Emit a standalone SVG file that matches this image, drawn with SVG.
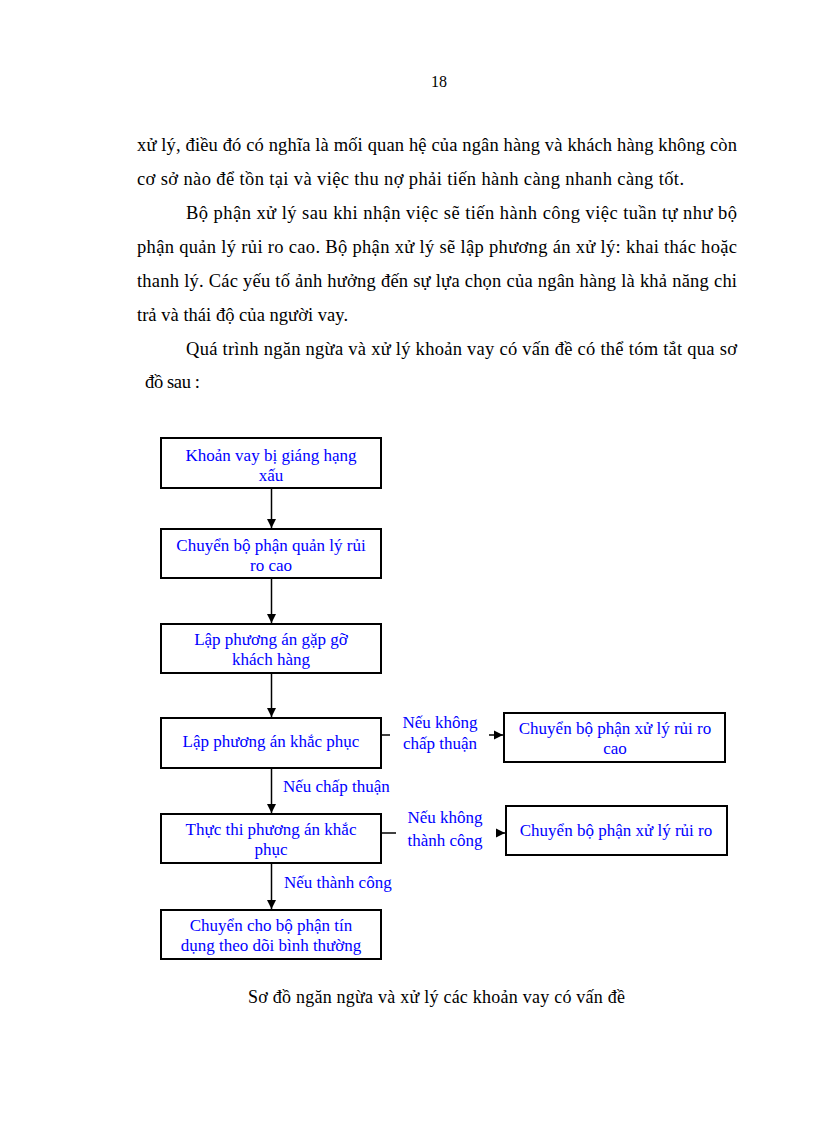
<svg xmlns="http://www.w3.org/2000/svg" width="816" height="1123" viewBox="0 0 816 1123">
<style>
text{font-family:"Liberation Serif","Times New Roman",serif}
.body{font-size:18.5px;fill:#000}
.pg{font-size:16px;fill:#000}
.cap{font-size:18px;fill:#000}
.nt{font-size:17px;fill:#0000ff;text-anchor:middle}
.lb{font-size:17px;fill:#0000ff}
.box{fill:#fff;stroke:#000;stroke-width:2}
.ln{stroke:#000;stroke-width:1.5;fill:none}
</style>
<defs>
<marker id="ah" markerWidth="10" markerHeight="10" refX="9" refY="5" orient="auto" markerUnits="userSpaceOnUse">
<path d="M0,0.5 L9,5 L0,9.5 Z" fill="#000"/>
</marker>
</defs>
<rect width="816" height="1123" fill="#fff"/>

<g id="page-text">
<text class="pg" x="439" y="87" text-anchor="middle">18</text>
<text class="body" x="137" y="151" textLength="600" lengthAdjust="spacing">xử lý, điều đó có nghĩa là mối quan hệ của ngân hàng và khách hàng không còn</text>
<text class="body" x="137" y="185" textLength="547" lengthAdjust="spacing">cơ sở nào để tồn tại và việc thu nợ phải tiến hành càng nhanh càng tốt.</text>
<text class="body" x="186" y="219" textLength="551" lengthAdjust="spacing">Bộ phận xử lý sau khi nhận việc sẽ tiến hành công việc tuần tự như bộ</text>
<text class="body" x="137" y="253" textLength="600" lengthAdjust="spacing">phận quản lý rủi ro cao. Bộ phận xử lý sẽ lập phương án xử lý: khai thác hoặc</text>
<text class="body" x="137" y="287" textLength="600" lengthAdjust="spacing">thanh lý. Các yếu tố ảnh hưởng đến sự lựa chọn của ngân hàng là khả năng chi</text>
<text class="body" x="137" y="321" textLength="211" lengthAdjust="spacing">trả và thái độ của người vay.</text>
<text class="body" x="186" y="355" textLength="551" lengthAdjust="spacing">Quá trình ngăn ngừa và xử lý khoản vay có vấn đề có thể tóm tắt qua sơ</text>
<text class="body" x="145" y="388" textLength="55" lengthAdjust="spacing">đồ sau :</text>
</g>

<g id="connectors">
<line class="ln" x1="271.5" y1="489" x2="271.5" y2="528" marker-end="url(#ah)"/>
<line class="ln" x1="271.5" y1="579" x2="271.5" y2="623" marker-end="url(#ah)"/>
<line class="ln" x1="271.5" y1="674" x2="271.5" y2="717" marker-end="url(#ah)"/>
<line class="ln" x1="271.5" y1="769" x2="271.5" y2="813" marker-end="url(#ah)"/>
<line class="ln" x1="271.5" y1="864" x2="271.5" y2="909" marker-end="url(#ah)"/>
<line class="ln" x1="382" y1="735" x2="390" y2="735"/>
<line class="ln" x1="489" y1="735" x2="503" y2="735" marker-end="url(#ah)"/>
<line class="ln" x1="382" y1="833" x2="396" y2="833"/>
<line class="ln" x1="496" y1="833" x2="505" y2="833" marker-end="url(#ah)"/>
<text class="lb" x="440" y="728" text-anchor="middle">Nếu không</text>
<text class="lb" x="440" y="749" text-anchor="middle">chấp thuận</text>
<text class="lb" x="445" y="823" text-anchor="middle">Nếu không</text>
<text class="lb" x="445" y="846" text-anchor="middle">thành công</text>
<text class="lb" x="283" y="792">Nếu chấp thuận</text>
<text class="lb" x="284" y="888">Nếu thành công</text>
</g>

<g id="n1">
<rect class="box" x="161" y="438" width="220" height="50"/>
<text class="nt" x="271" y="461">Khoản vay bị giáng hạng</text>
<text class="nt" x="271" y="481">xấu</text>
</g>
<g id="n2">
<rect class="box" x="161" y="529" width="220" height="49"/>
<text class="nt" x="271" y="551">Chuyển bộ phận quản lý rủi</text>
<text class="nt" x="271" y="571">ro cao</text>
</g>
<g id="n3">
<rect class="box" x="161" y="624" width="220" height="49"/>
<text class="nt" x="271" y="645">Lập phương án gặp gỡ</text>
<text class="nt" x="271" y="665">khách hàng</text>
</g>
<g id="n4">
<rect class="box" x="161" y="718" width="220" height="50"/>
<text class="nt" x="271" y="747">Lập phương án khắc phục</text>
</g>
<g id="n5">
<rect class="box" x="161" y="814" width="220" height="49"/>
<text class="nt" x="271" y="835">Thực thi phương án khắc</text>
<text class="nt" x="271" y="855">phục</text>
</g>
<g id="n6">
<rect class="box" x="161" y="910" width="220" height="49"/>
<text class="nt" x="271" y="931">Chuyển cho bộ phận tín</text>
<text class="nt" x="271" y="951">dụng theo dõi bình thường</text>
</g>
<g id="n7">
<rect class="box" x="504" y="713" width="221" height="49"/>
<text class="nt" x="615" y="734">Chuyển bộ phận xử lý rủi ro</text>
<text class="nt" x="615" y="754">cao</text>
</g>
<g id="n8">
<rect class="box" x="506" y="806" width="221" height="49"/>
<text class="nt" x="616" y="836">Chuyển bộ phận xử lý rủi ro</text>
</g>

<text class="cap" x="248" y="1003" textLength="377" lengthAdjust="spacing">Sơ đồ ngăn ngừa và xử lý các khoản vay có vấn đề</text>
</svg>
